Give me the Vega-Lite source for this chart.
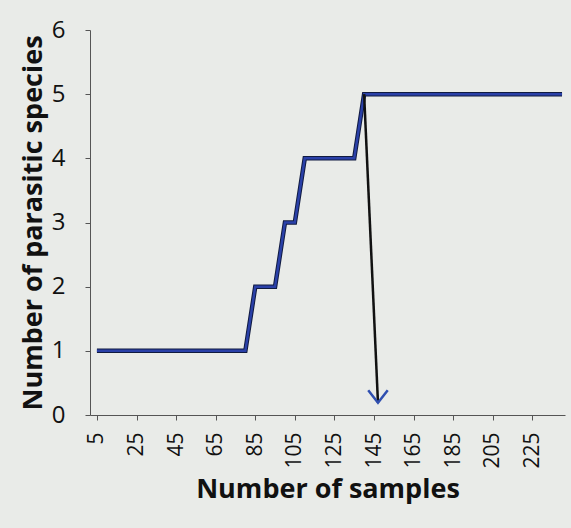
{
  "$schema": "https://vega.github.io/schema/vega-lite/v6.json",
  "autosize": {"type": "none"},
  "width": 475,
  "height": 385,
  "padding": {"left": 90, "top": 30, "right": 6, "bottom": 113},
  "background": "#e9ebe8",
  "config": {
    "view": {"stroke": null},
    "font": "Open Sans",
    "axis": {"labelFont": "Open Sans", "titleFont": "Open Sans", "labelColor": "#111", "titleColor": "#111", "domainColor": "#555", "tickColor": "#555", "grid": false}
  },
  "datasets": {
    "curve": [
      {"samples": 5, "species": 1}, {"samples": 10, "species": 1}, {"samples": 15, "species": 1}, {"samples": 20, "species": 1},
      {"samples": 25, "species": 1}, {"samples": 30, "species": 1}, {"samples": 35, "species": 1}, {"samples": 40, "species": 1},
      {"samples": 45, "species": 1}, {"samples": 50, "species": 1}, {"samples": 55, "species": 1}, {"samples": 60, "species": 1},
      {"samples": 65, "species": 1}, {"samples": 70, "species": 1}, {"samples": 75, "species": 1}, {"samples": 80, "species": 1},
      {"samples": 85, "species": 2}, {"samples": 90, "species": 2}, {"samples": 95, "species": 2},
      {"samples": 100, "species": 3}, {"samples": 105, "species": 3},
      {"samples": 110, "species": 4}, {"samples": 115, "species": 4}, {"samples": 120, "species": 4}, {"samples": 125, "species": 4},
      {"samples": 130, "species": 4}, {"samples": 135, "species": 4},
      {"samples": 140, "species": 5}, {"samples": 145, "species": 5}, {"samples": 150, "species": 5}, {"samples": 155, "species": 5},
      {"samples": 160, "species": 5}, {"samples": 165, "species": 5}, {"samples": 170, "species": 5}, {"samples": 175, "species": 5},
      {"samples": 180, "species": 5}, {"samples": 185, "species": 5}, {"samples": 190, "species": 5}, {"samples": 195, "species": 5},
      {"samples": 200, "species": 5}, {"samples": 205, "species": 5}, {"samples": 210, "species": 5}, {"samples": 215, "species": 5},
      {"samples": 220, "species": 5}, {"samples": 225, "species": 5}, {"samples": 230, "species": 5}, {"samples": 235, "species": 5},
      {"samples": 240, "species": 5}
    ],
    "arrow": [{"x": 140, "y": 5, "x2": 147, "y2": 0.19}]
  },
  "layer": [
    {
      "data": {"name": "curve"},
      "mark": {"type": "line", "color": "#101a40", "strokeWidth": 4.5},
      "encoding": {
        "x": {
          "field": "samples", "type": "quantitative",
          "scale": {"domain": [1.5, 241.5], "nice": false, "zero": false},
          "axis": {
            "title": "Number of samples",
            "titleFontSize": 27, "titleFontWeight": "bold", "titlePadding": 8,
            "values": [5,10,15,20,25,30,35,40,45,50,55,60,65,70,75,80,85,90,95,100,105,110,115,120,125,130,135,140,145,150,155,160,165,170,175,180,185,190,195,200,205,210,215,220,225,230,235,240],
            "labelExpr": "(datum.value - 5) % 20 == 0 ? datum.label : ''",
            "labelAngle": -90, "labelAlign": "right", "labelBaseline": "middle",
            "labelFontSize": 21, "labelPadding": 12, "tickSize": 5, "labelOverlap": false, "labelFlush": false
          }
        },
        "y": {
          "field": "species", "type": "quantitative",
          "scale": {"domain": [0, 6], "nice": false},
          "axis": {
            "title": "Number of parasitic species", "format": "d",
            "titleFontSize": 27, "titleFontWeight": "bold", "titlePadding": 4,
            "values": [0,1,2,3,4,5,6], "labelFontSize": 24, "labelPadding": 20, "tickSize": 5
          }
        }
      }
    },
    {
      "data": {"name": "curve"},
      "mark": {"type": "line", "color": "#2a40a8", "strokeWidth": 2.5},
      "encoding": {
        "x": {"field": "samples", "type": "quantitative"},
        "y": {"field": "species", "type": "quantitative"}
      }
    },
    {
      "data": {"name": "arrow"},
      "mark": {"type": "rule", "color": "#111", "strokeWidth": 2.5},
      "encoding": {
        "x": {"field": "x", "type": "quantitative"},
        "y": {"field": "y", "type": "quantitative"},
        "x2": {"field": "x2"},
        "y2": {"field": "y2"}
      }
    },
    {
      "data": {"name": "arrow"},
      "mark": {"type": "point", "shape": "M-1,-1.3L0,0L1,-1.3", "filled": false, "stroke": "#2f4fb0", "strokeWidth": 2.5, "size": 380, "opacity": 1},
      "encoding": {
        "x": {"field": "x2", "type": "quantitative"},
        "y": {"field": "y2", "type": "quantitative"}
      }
    }
  ]
}
